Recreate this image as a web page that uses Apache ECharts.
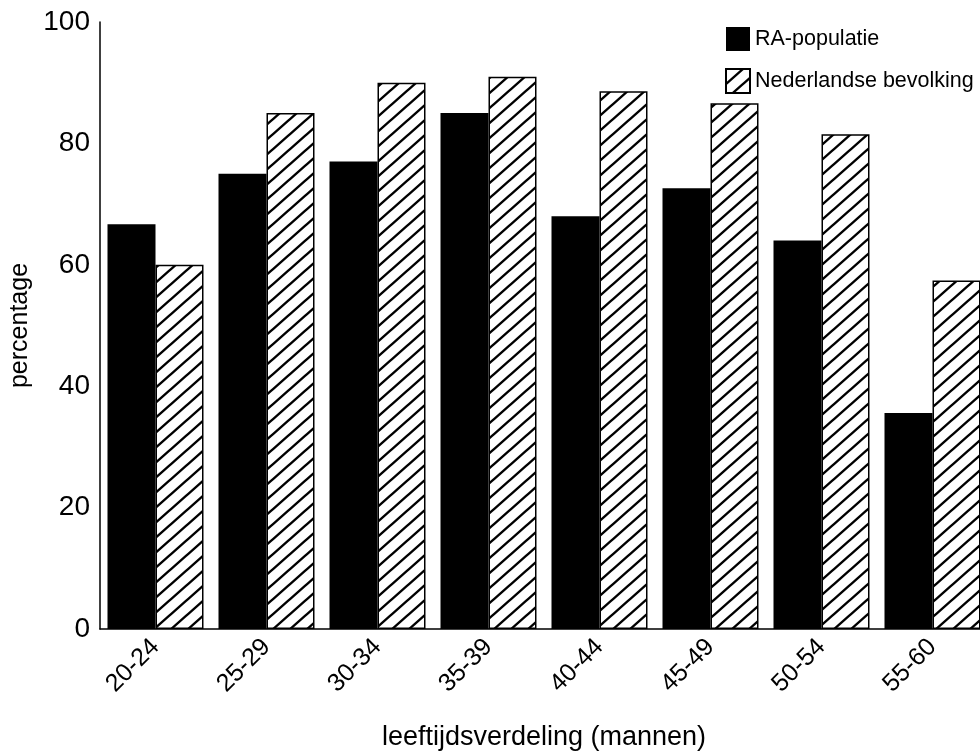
<!DOCTYPE html>
<html>
<head>
<meta charset="utf-8">
<script src="https://cdn.jsdelivr.net/npm/echarts@6/dist/echarts.min.js"></script>
<style>
html,body{margin:0;padding:0;background:#fff;}
#chart{width:980px;height:753px;}
</style>
</head>
<body>
<div id="chart"></div>
<script>
var categories = ['20-24','25-29','30-34','35-39','40-44','45-49','50-54','55-60'];
var raPopulatie = [66.7, 75, 77, 85, 68, 72.6, 64, 35.6];
var nederlandseBevolking = [60, 85, 90, 91, 88.6, 86.6, 81.5, 57.4];
var yTicks = [0, 20, 40, 60, 80, 100];

function hatch() {
  var W = 17, H = 15;
  var c = document.createElement('canvas');
  c.width = W; c.height = H;
  var g = c.getContext('2d');
  g.fillStyle = '#fff';
  g.fillRect(0, 0, W, H);
  g.strokeStyle = '#000';
  g.lineWidth = 2.4;
  [-H, 0, H].forEach(function (off) {
    g.beginPath();
    g.moveTo(-W, 2 * H + off);
    g.lineTo(2 * W, -H + off);
    g.stroke();
  });
  return c;
}

var chart = echarts.init(document.getElementById('chart'), null, {renderer: 'canvas'});
var font = 'Liberation Sans, Arial, Helvetica, sans-serif';
chart.setOption({
  backgroundColor: '#fff',
  animation: false,
  textStyle: {fontFamily: font, color: '#000'},
  legend: {
    orient: 'vertical',
    left: 725, top: 27,
    padding: 0,
    itemWidth: 24, itemHeight: 24, itemGap: 17,
    icon: 'rect',
    textStyle: {fontSize: 21.5, color: '#000', fontFamily: font},
    data: ['RA-populatie', 'Nederlandse bevolking']
  },
  grid: {left: 100, top: 22, width: 888, bottom: 124, containLabel: false, outerBoundsMode: 'none'},
  xAxis: {
    type: 'category',
    data: categories,
    name: 'leeftijdsverdeling (mannen)',
    nameLocation: 'middle',
    nameGap: 95,
    nameTextStyle: {fontSize: 27, color: '#000', fontFamily: font},
    axisLine: {lineStyle: {color: '#000', width: 1.5}},
    axisTick: {show: false},
    axisLabel: {rotate: 45, fontSize: 25, color: '#000', margin: 14, fontFamily: font}
  },
  yAxis: {
    type: 'value',
    min: yTicks[0], max: yTicks[yTicks.length - 1], interval: 20,
    name: 'percentage',
    nameLocation: 'middle',
    nameGap: 67,
    nameTextStyle: {fontSize: 25, color: '#000', fontFamily: font},
    axisLine: {show: true, lineStyle: {color: '#000', width: 1.5}},
    axisTick: {show: false},
    splitLine: {show: false},
    axisLabel: {fontSize: 28, color: '#000', margin: 10, fontFamily: font}
  },
  series: [
    {
      name: 'RA-populatie',
      type: 'bar',
      data: raPopulatie,
      barWidth: 48,
      barGap: '0%',
      itemStyle: {color: '#000'}
    },
    {
      name: 'Nederlandse bevolking',
      type: 'bar',
      data: nederlandseBevolking,
      barWidth: 48,
      barGap: '0%',
      itemStyle: {color: {image: hatch(), repeat: 'repeat'}, borderColor: '#000', borderWidth: 1.5}
    }
  ]
});
</script>
</body>
</html>
